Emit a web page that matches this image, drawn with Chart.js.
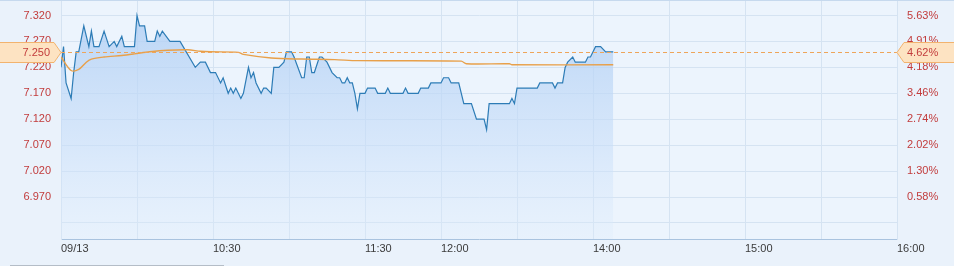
<!DOCTYPE html>
<html>
<head>
<meta charset="utf-8">
<script src="https://cdn.jsdelivr.net/npm/chart.js@4"></script>
<style>
  html, body { margin: 0; padding: 0; background: #eaf2fb; }
  #wrap { width: 954px; height: 266px; position: relative; }
</style>
</head>
<body>
<div id="wrap"><canvas id="intraday_chart" width="954" height="266"></canvas></div>
<script>
// intraday price, HK session (lunch break folded out)
var prevClose = 6.93
var lastPrice = 7.25

var priceTimes = ['09:30','09:31','09:32','09:34','09:35','09:36','09:37','09:39','09:41','09:42',
  '09:43','09:45','09:47','09:49','09:51','09:52','09:54','09:55','09:59','10:00',
  '10:01','10:03','10:04','10:07','10:08','10:09','10:10','10:13','10:17','10:23',
  '10:25','10:27','10:29','10:31','10:33','10:34','10:36','10:37','10:38','10:39',
  '10:40','10:41','10:42','10:44','10:45','10:46','10:47','10:49','10:50','10:51',
  '10:53','10:54','10:56','10:58','10:59','11:01','11:02','11:05','11:06','11:07',
  '11:08','11:09','11:10','11:12','11:13','11:15','11:17','11:19','11:20','11:21',
  '11:22','11:23','11:24','11:25','11:26','11:27','11:28','11:30','11:31','11:34',
  '11:35','11:38','11:39','11:40','11:45','11:46','11:47','11:51','11:52','11:55',
  '11:56','13:00','13:01','13:03','13:04','13:07','13:09','13:12','13:14','13:17',
  '13:18','13:19','13:27','13:28','13:29','13:30','13:38','13:39','13:44','13:45',
  '13:46','13:48','13:49','13:50','13:52','13:53','13:57','13:58','13:59','14:01',
  '14:03','14:05','14:08']
var prices = [7.22,7.26,7.19,7.16,7.21,7.25,7.25,7.30,7.26,7.29,
  7.26,7.26,7.29,7.26,7.27,7.26,7.28,7.26,7.26,7.32,
  7.30,7.30,7.27,7.27,7.29,7.28,7.29,7.27,7.27,7.22,
  7.23,7.23,7.21,7.21,7.19,7.20,7.17,7.18,7.17,7.18,
  7.17,7.16,7.17,7.22,7.20,7.21,7.19,7.17,7.18,7.18,
  7.17,7.22,7.22,7.23,7.25,7.25,7.24,7.20,7.20,7.24,
  7.24,7.21,7.21,7.24,7.24,7.23,7.21,7.20,7.20,7.19,
  7.19,7.20,7.19,7.19,7.17,7.14,7.17,7.17,7.18,7.18,
  7.17,7.17,7.18,7.17,7.17,7.18,7.17,7.17,7.18,7.18,
  7.19,7.19,7.20,7.20,7.19,7.19,7.15,7.15,7.12,7.12,
  7.10,7.15,7.15,7.16,7.15,7.18,7.18,7.19,7.19,7.18,
  7.19,7.19,7.22,7.23,7.24,7.23,7.23,7.24,7.24,7.26,
  7.26,7.25,7.25]

var avgTimes = ['09:30','09:34','09:37','09:40','09:42','09:47','09:54','09:59','10:05','10:12',
  '10:20','10:25','10:29','10:40','10:42','10:53','11:05','11:18','11:27','13:08',
  '13:10','13:27','13:28','14:08']
var avgPrices = [7.24,7.214,7.216,7.23,7.236,7.240,7.243,7.246,7.250,7.253,
  7.254,7.251,7.250,7.249,7.245,7.238,7.236,7.235,7.233,7.232,
  7.227,7.227,7.225,7.225]

var yTicks = [6.92, 6.97, 7.02, 7.07, 7.12, 7.17, 7.22, 7.27, 7.32]
var xTickTimes = ['09:30','10:00','10:30','11:00','11:30','12:00','13:30','14:00','14:30','15:00','15:30','16:00']
var xTickLabels = ['09/13','','10:30','','11:30','12:00','','14:00','','15:00','','16:00']

function sessionMinute(t) {
  var p = t.split(':')
  var m = (+p[0]) * 60 + (+p[1])
  if (t === '12:00') return 150
  if (m >= 13 * 60) return 150 + m - 13 * 60
  return m - (9 * 60 + 30)
}

function toPoints(times, vals) {
  var pts = []
  for (var i = 0; i < times.length; i++) pts.push({ x: sessionMinute(times[i]), y: vals[i] })
  return pts
}

var xTickVals = xTickTimes.map(sessionMinute)
var labelColor = '#c23c3c'
var gridColor = '#d5e3f2'
var font = { family: 'Arial, "Liberation Sans", sans-serif', size: 11 }

function pct(v) {
  return ((v - prevClose) / prevClose * 100).toFixed(2) + '%'
}

// the scales put label padding at the ends, we don't want it
function noPad(s) {
  s.paddingTop = 0
  s.paddingBottom = 0
  s.paddingLeft = 0
  s.paddingRight = 0
}

var overlay = {
  id: 'overlay',
  beforeDraw: function (chart) {
    var a = chart.chartArea, ctx = chart.ctx
    ctx.save()
    ctx.fillStyle = '#ecf4fd'
    ctx.fillRect(a.left, a.top, a.right - a.left, a.bottom - a.top)
    ctx.restore()
  },
  afterDraw: function (chart) {
    var a = chart.chartArea, ctx = chart.ctx
    var y = Math.round(chart.scales.y.getPixelForValue(lastPrice)) + 0.5
    ctx.save()
    // last price dashed line
    ctx.strokeStyle = '#eea55a'
    ctx.lineWidth = 1
    ctx.setLineDash([4, 3])
    ctx.beginPath()
    ctx.moveTo(a.left, y)
    ctx.lineTo(a.right, y)
    ctx.stroke()
    ctx.setLineDash([])

    // markers
    ctx.fillStyle = '#fde3c2'
    ctx.strokeStyle = '#f2b36e'
    ctx.beginPath()
    ctx.moveTo(-1, y - 10)
    ctx.lineTo(a.left - 7, y - 10)
    ctx.lineTo(a.left, y)
    ctx.lineTo(a.left - 7, y + 10)
    ctx.lineTo(-1, y + 10)
    ctx.closePath()
    ctx.fill()
    ctx.stroke()
    ctx.beginPath()
    ctx.moveTo(chart.width + 1, y - 10)
    ctx.lineTo(a.right + 7, y - 10)
    ctx.lineTo(a.right, y)
    ctx.lineTo(a.right + 7, y + 10)
    ctx.lineTo(chart.width + 1, y + 10)
    ctx.closePath()
    ctx.fill()
    ctx.stroke()

    ctx.fillStyle = labelColor
    ctx.font = font.size + 'px ' + font.family
    ctx.textBaseline = 'middle'
    ctx.textAlign = 'right'
    ctx.fillText(lastPrice.toFixed(3), a.left - 11, y)
    ctx.textAlign = 'left'
    ctx.fillText(pct(lastPrice), a.right + 10, y)

    // page edges
    ctx.strokeStyle = '#c6d9ee'
    ctx.beginPath()
    ctx.moveTo(0, 0.5)
    ctx.lineTo(chart.width, 0.5)
    ctx.stroke()
    ctx.strokeStyle = '#b4bdc7'
    ctx.beginPath()
    ctx.moveTo(10, 265.5)
    ctx.lineTo(224, 265.5)
    ctx.stroke()
    ctx.restore()
  }
}

var ctx = document.getElementById('intraday_chart').getContext('2d')
var myChart = new Chart(ctx, {
  type: 'line',
  data: {
    datasets: [
      {
        label: 'price',
        data: toPoints(priceTimes, prices),
        borderColor: '#2d7cb6',
        borderWidth: 1.2,
        pointRadius: 0,
        tension: 0,
        fill: 'start',
        backgroundColor: function (c) {
          var a = c.chart.chartArea
          if (!a) return 'rgba(190,215,245,0.6)'
          var g = c.chart.ctx.createLinearGradient(0, a.top + 15, 0, a.bottom)
          g.addColorStop(0, 'rgba(175,206,243,0.8)')
          g.addColorStop(0.6, 'rgba(200,222,249,0.55)')
          g.addColorStop(1, 'rgba(222,236,251,0.3)')
          return g
        },
        order: 2,
      },
      {
        label: 'avg',
        data: toPoints(avgTimes, avgPrices),
        borderColor: '#e8a04a',
        borderWidth: 1.4,
        pointRadius: 0,
        tension: 0.3,
        fill: false,
        order: 1,
      },
    ],
  },
  options: {
    responsive: false,
    animation: false,
    events: [],
    layout: { padding: { top: 1, left: 0, right: 0, bottom: 0 } },
    plugins: { legend: { display: false }, tooltip: { enabled: false } },
    scales: {
      x: {
        type: 'linear',
        min: 0,
        max: 330,
        afterBuildTicks: function (s) { s.ticks = xTickVals.map(function (v) { return { value: v } }) },
        afterFit: function (s) { s.height = 27; noPad(s) },
        ticks: {
          autoSkip: false,
          maxRotation: 0,
          align: 'start',
          padding: 3,
          color: '#3a3a3a',
          font: font,
          callback: function (v, i) { return xTickLabels[i] },
        },
        grid: { color: gridColor, drawTicks: false },
        border: { color: '#a9c3df' },
      },
      y: {
        position: 'left',
        min: 6.889,
        max: 7.348,
        afterBuildTicks: function (s) { s.ticks = yTicks.map(function (v) { return { value: v } }) },
        afterFit: function (s) { s.width = 61; noPad(s) },
        ticks: {
          padding: 10,
          color: labelColor,
          font: font,
          callback: function (v, i) { return i === 0 ? '' : v.toFixed(3) },
        },
        grid: { color: gridColor, drawTicks: false },
        border: { color: gridColor },
      },
      y1: {
        position: 'right',
        min: 6.889,
        max: 7.348,
        afterBuildTicks: function (s) { s.ticks = yTicks.map(function (v) { return { value: v } }) },
        afterFit: function (s) { s.width = 57; noPad(s) },
        ticks: {
          padding: 10,
          color: labelColor,
          font: font,
          callback: function (v, i) { return i === 0 ? '' : pct(v) },
        },
        grid: { display: false, drawTicks: false },
        border: { color: gridColor },
      },
    },
  },
  plugins: [overlay],
})
</script>
</body>
</html>
